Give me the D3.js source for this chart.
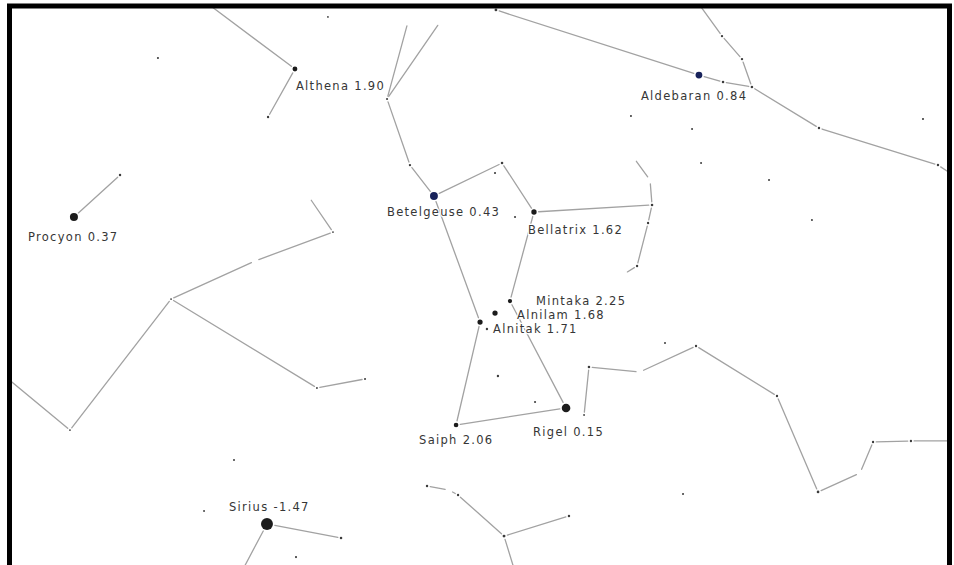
<!DOCTYPE html>
<html>
<head>
<meta charset="utf-8">
<script src="https://cdn.jsdelivr.net/npm/d3@7"></script>
<style>
  html, body { margin: 0; padding: 0; background: #fff; }
  svg { display: block; }
  .label {
    font-family: "DejaVu Sans", sans-serif;
    font-size: 11.5px;
    letter-spacing: 1.3px;
    fill: #363636;
    stroke: #fff;
    stroke-width: 2.5px;
    paint-order: stroke;
  }
</style>
</head>
<body>
<div class="content-container"></div>
<script>

// NAMED STARS: name, right ascension (deg), declination (deg), magnitude
const namedStars = [
  ["Althena",    99.74,  16.87,  1.90],
  ["Aldebaran",  69.25,  16.42,  0.84],
  ["Procyon",   116.42,   5.87,  0.37],
  ["Betelgeuse", 89.25,   7.43,  0.43],
  ["Bellatrix",  81.70,   6.24,  1.62],
  ["Mintaka",    83.51,  -0.38,  2.25],
  ["Alnilam",    84.64,  -1.27,  1.68],
  ["Alnitak",    85.77,  -1.94,  1.71],
  ["Rigel",      79.28,  -8.33,  0.15],
  ["Saiph",      87.58,  -9.59,  2.06],
  ["Sirius",    101.85, -16.95, -1.47]
];

// FAINT STARS: id, ra, dec, magnitude (null = line vertex, no dot drawn)
const fieldStars = [
  ["a", 106.60, 21.93, null], ["b", 101.77, 13.30, 4.0], ["c", 110.08, 17.69, 4.2],
  ["d", 112.94, 8.99, 3.9],   ["e", 91.21, 20.36, null], ["f", 88.79, 20.36, null],
  ["g", 92.79, 14.64, 4.2],   ["h", 91.06, 9.73, 4.0],   ["i", 84.57, 21.26, 3.6],
  ["j", 74.38, 13.38, 4.3],   ["k", 84.11, 9.88, 3.8],   ["l", 84.64, 9.14, 4.2],
  ["m", 67.51, 19.32, 4.0],   ["n", 66.00, 17.61, 4.0],  ["o", 65.25, 15.53, 3.8],
  ["p", 67.43, 15.90, 3.8],   ["q", 69.47, 22.00, null], ["r", 60.19, 12.48, 3.9],
  ["s", 51.21, 9.73, 3.9],    ["t", 49.85, 8.84, null],  ["u", 52.34, 13.15, 4.2],
  ["v", 69.77, 12.41, 4.3],   ["w", 69.09, 9.88, 4.3],   ["x", 63.96, 8.62, 4.3],
  ["y", 74.15, 10.25, null],  ["yy", 72.94, 8.62, null], ["z", 72.79, 6.76, 3.8],
  ["aa", 73.09, 5.42, 4.0],   ["ab", 73.92, 2.23, 4.0],  ["ac", 74.91, 1.63, null],
  ["ad", 60.72, 5.65, 4.3],   ["ae", 71.81, -3.50, 4.3], ["af", 69.47, -3.72, 4.0],
  ["ag", 77.55, -5.28, 3.8],  ["ah", 73.70, -5.65, null], ["ai", 63.36, -7.44, 4.0],
  ["aj", 60.26, -14.57, 3.7], ["ak", 77.92, -8.85, 4.5], ["al", 70.45, -14.72, 4.3],
  ["am", 57.09, -13.16, null], ["an", 56.11, -10.86, 4.0], ["ao", 53.25, -10.78, 4.0],
  ["ap", 49.70, -10.78, null], ["aq", 98.68, 7.36, null], ["ar", 96.87, 4.75, 4.5],
  ["as", 102.75, 2.60, null], ["at", 109.09, -0.23, 4.5], ["au", 116.72, -9.97, 4.5],
  ["av", 121.55, -6.03, null], ["aw", 98.08, -6.84, 4.4], ["ax", 94.45, -6.17, 4.3],
  ["ay", 104.34, -12.20, 4.3], ["az", 106.60, -15.99, 4.4], ["ba", 96.26, -17.99, 3.8],
  ["bb", 103.89, -20.74, null], ["bc", 99.66, -19.41, 4.2], ["bd", 89.77, -14.13, 3.9],
  ["be", 88.11, -14.43, null], ["bf", 87.43, -14.80, 4.0], ["bg", 83.96, -17.85, 3.5],
  ["bh", 79.06, -16.36, 3.9], ["bi", 83.06, -20.74, null], ["bj", 83.13, 5.87, 4.2],
  ["bk", 84.42, -5.95, 4.0],  ["bl", 81.62, -7.88, 4.2], ["bm", 85.25, -2.46, 4.0],
  ["bn", 97.25, 20.74, 4.5]
];

// CONSTELLATION LINES (pairs of star ids / names)
const constellationLines = [
  ["a", "Althena"], ["Althena", "b"], ["d", "Procyon"],
  ["e", "g"], ["f", "g"], ["g", "h"], ["h", "Betelgeuse"],
  ["i", "Aldebaran"], ["Aldebaran", "p"], ["p", "o"],
  ["q", "m"], ["m", "n"], ["n", "o"], ["o", "r"], ["r", "s"], ["s", "t"],
  ["Betelgeuse", "k"], ["k", "Bellatrix"], ["Bellatrix", "z"],
  ["y", "yy"], ["yy", "z"], ["z", "aa"], ["aa", "ab"], ["ab", "ac"],
  ["Bellatrix", "Mintaka"], ["Betelgeuse", "Alnitak"], ["Alnitak", "Saiph"],
  ["Saiph", "Rigel"], ["Mintaka", "Rigel"],
  ["ag", "ah"], ["ah", "af"], ["af", "ai"], ["ai", "aj"], ["aj", "am"],
  ["am", "an"], ["an", "ao"], ["ao", "ap"], ["ag", "ak"],
  ["aq", "ar"], ["ar", "as"], ["as", "at"], ["at", "au"], ["au", "av"],
  ["at", "aw"], ["aw", "ax"],
  ["Sirius", "ba"], ["Sirius", "bb"],
  ["bd", "be"], ["be", "bf"], ["bf", "bg"], ["bg", "bh"], ["bg", "bi"]
];

const width = 954;
const height = 565;

// label placement relative to the star (px)
const labelOffset = {
  Althena: [1, 21], Aldebaran: [-58, 25], Procyon: [-46, 24], Betelgeuse: [-47, 20],
  Bellatrix: [-6, 22], Mintaka: [26, 4], Alnilam: [22, 6], Alnitak: [13, 11],
  Rigel: [-33, 28], Saiph: [-37, 19], Sirius: [-38, -13]
};
const navyStars = ["Betelgeuse", "Aldebaran"];

//SCALES

// RA grows to the left on a sky map
const xScale = d3.scaleLinear().domain([122, 50]).range([0, width]);
const yScale = d3.scaleLinear().domain([22, -20]).range([0, height]);
const rScale = d3.scaleLinear()
                 .domain([-1.5, 0, 1, 2.3, 4.5])
                 .range([6, 4.5, 3.2, 2.1, 0.9])
                 .clamp(true);

const stars = {};
namedStars.forEach(function(s) {
  stars[s[0]] = {id: s[0], ra: s[1], dec: s[2], mag: s[3], named: true};
});
fieldStars.forEach(function(s) {
  stars[s[0]] = {id: s[0], ra: s[1], dec: s[2], mag: s[3], named: false};
});
const starList = Object.values(stars);

const radius = (d) => d.mag === null ? 0 : rScale(d.mag);

const chart = d3.select(".content-container")
              .append("svg")
              .attr("width", width)
              .attr("height", height);

chart.append("clipPath")
  .attr("id", "inner")
  .append("rect")
  .attr("x", 12).attr("y", 8)
  .attr("width", 935).attr("height", height);

//LINES (stop a little short of each star)

const segment = function(pair) {
  const a = stars[pair[0]], b = stars[pair[1]];
  const x1 = xScale(a.ra), y1 = yScale(a.dec);
  const x2 = xScale(b.ra), y2 = yScale(b.dec);
  const len = Math.hypot(x2 - x1, y2 - y1);
  const ux = (x2 - x1) / len, uy = (y2 - y1) / len;
  const ga = a.mag === null ? 4 : radius(a) + 2;
  const gb = b.mag === null ? 4 : radius(b) + 2;
  return {x1: x1 + ux * ga, y1: y1 + uy * ga, x2: x2 - ux * gb, y2: y2 - uy * gb};
};

chart.append("g")
  .attr("clip-path", "url(#inner)")
  .selectAll("line")
  .data(constellationLines.map(segment))
  .enter()
  .append("line")
  .attr("x1", (d) => d.x1)
  .attr("y1", (d) => d.y1)
  .attr("x2", (d) => d.x2)
  .attr("y2", (d) => d.y2)
  .attr("stroke", "#a2a2a2")
  .attr("stroke-width", 1.3)
  .attr("stroke-linecap", "round");

//STARS

chart.append("g")
  .attr("clip-path", "url(#inner)")
  .selectAll("circle")
  .data(starList.filter((d) => d.mag !== null))
  .enter()
  .append("circle")
  .attr("cx", (d) => xScale(d.ra))
  .attr("cy", (d) => yScale(d.dec))
  .attr("r", radius)
  .attr("fill", (d) => {
    if (navyStars.indexOf(d.id) >= 0) {
      return "#17225a";
    }
    return d.named ? "#1c1c1c" : "#3c3c3c";
  });

//LABELS

chart.append("g")
  .selectAll("text")
  .data(starList.filter((d) => d.named))
  .enter()
  .append("text")
  .attr("class", "label")
  .attr("x", (d) => xScale(d.ra) + labelOffset[d.id][0])
  .attr("y", (d) => yScale(d.dec) + labelOffset[d.id][1])
  .text((d) => d.id + " " + d.mag.toFixed(2));

//FRAME

chart.append("rect")
  .attr("x", 9.5)
  .attr("y", 6)
  .attr("width", 940)
  .attr("height", 620)
  .attr("fill", "none")
  .attr("stroke", "#000")
  .attr("stroke-width", 5);

</script>
</body>
</html>
